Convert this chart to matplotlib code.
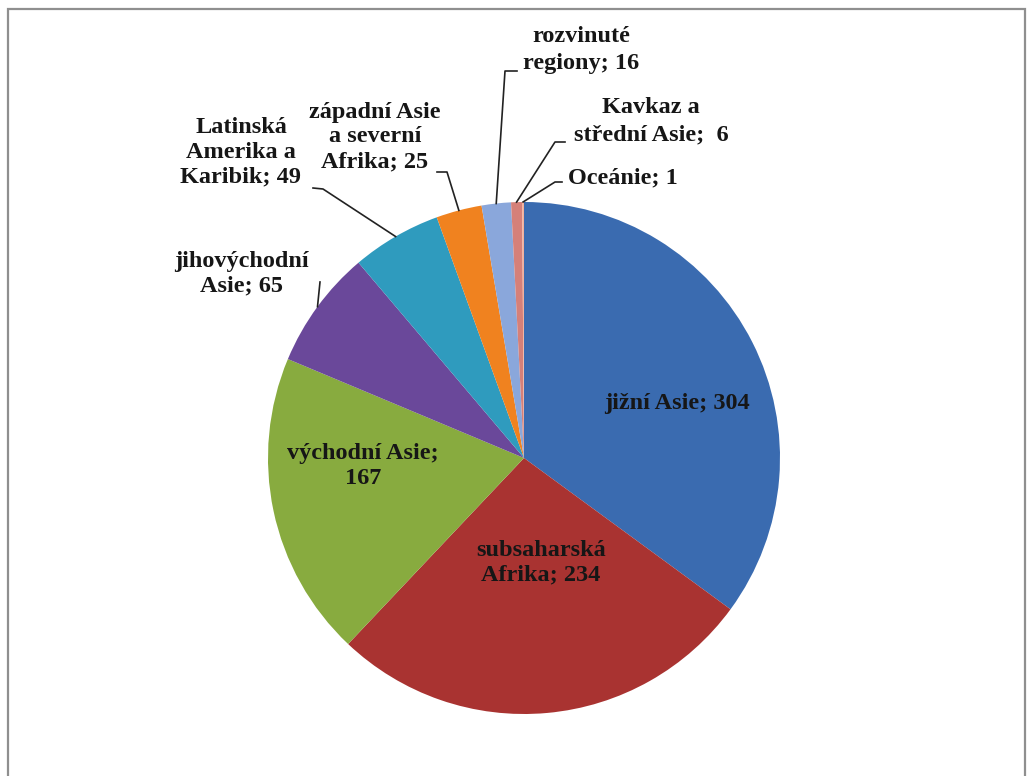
import matplotlib.pyplot as plt
import numpy as np
from matplotlib.patches import Rectangle

plt.rcParams['font.family'] = ['Liberation Serif', 'DejaVu Serif']

labels = ["jižní Asie; 304", "subsaharská\nAfrika; 234", "východní Asie;\n167",
          "jihovýchodní\nAsie; 65", "Latinská\nAmerika a\nKaribik; 49",
          "západní Asie\na severní\nAfrika; 25", "rozvinuté\nregiony; 16",
          "Kavkaz a\nstřední Asie;  6", "Oceánie; 1"]
values = [304, 234, 167, 65, 49, 25, 16, 6, 1]
colors = ["#3A6BB0", "#A93331", "#88AB3F", "#6A489A", "#2F9BBE",
          "#F0821F", "#8AA7DB", "#D58079", "#F2B09C"]

W, H = 1029, 776
fig = plt.figure(figsize=(W / 100, H / 100), dpi=100)
ax = fig.add_axes([0, 0, 1, 1])


def py(y):
    # pixel row -> data y
    return H - y


cx, cy, r = 524, py(458), 256
wedges, _ = ax.pie(values, colors=colors, startangle=90, counterclock=False,
                   center=(cx, cy), radius=r, frame=True,
                   wedgeprops=dict(linewidth=0))
ax.set_xlim(0, W)
ax.set_ylim(0, H)
ax.set_aspect("equal")
ax.axis("off")

# chart frame
ax.add_patch(Rectangle((8, py(800)), 1017, 791, fill=False,
                       edgecolor="#8f8f8f", linewidth=1.6, zorder=5))

# label placement (pixel coords of text centre) and leader elbows
pos = [(677, 404), (541, 563), (363, 466), (241, 274), (241, 152),
       (375, 137), (581, 50), (651, 121), (623, 178)]
spacing = {6: 1.4, 7: 1.4}
leaders = {3: [(320, 282)], 4: [(313, 188), (323, 189)],
           5: [(437, 172), (447, 172)], 6: [(517, 71), (505, 71)],
           7: [(565, 142), (555, 142)], 8: [(562, 182), (555, 182)]}

fs = 17.5
for i, (lab, (x, y)) in enumerate(zip(labels, pos)):
    ax.text(x, py(y), lab, ha="center", va="center", fontsize=fs,
            fontweight="bold", color="#161616",
            linespacing=spacing.get(i, 1.24), zorder=6)
    if i in leaders:
        w = wedges[i]
        mid = np.deg2rad((w.theta1 + w.theta2) / 2)
        ex, ey = cx + r * np.cos(mid), cy + r * np.sin(mid)
        xs = [p[0] for p in leaders[i]] + [ex]
        ys = [py(p[1]) for p in leaders[i]] + [ey]
        ax.plot(xs, ys, color="#222222", linewidth=1.2, zorder=6)

fig.savefig("out.png", dpi=100, facecolor="white")
